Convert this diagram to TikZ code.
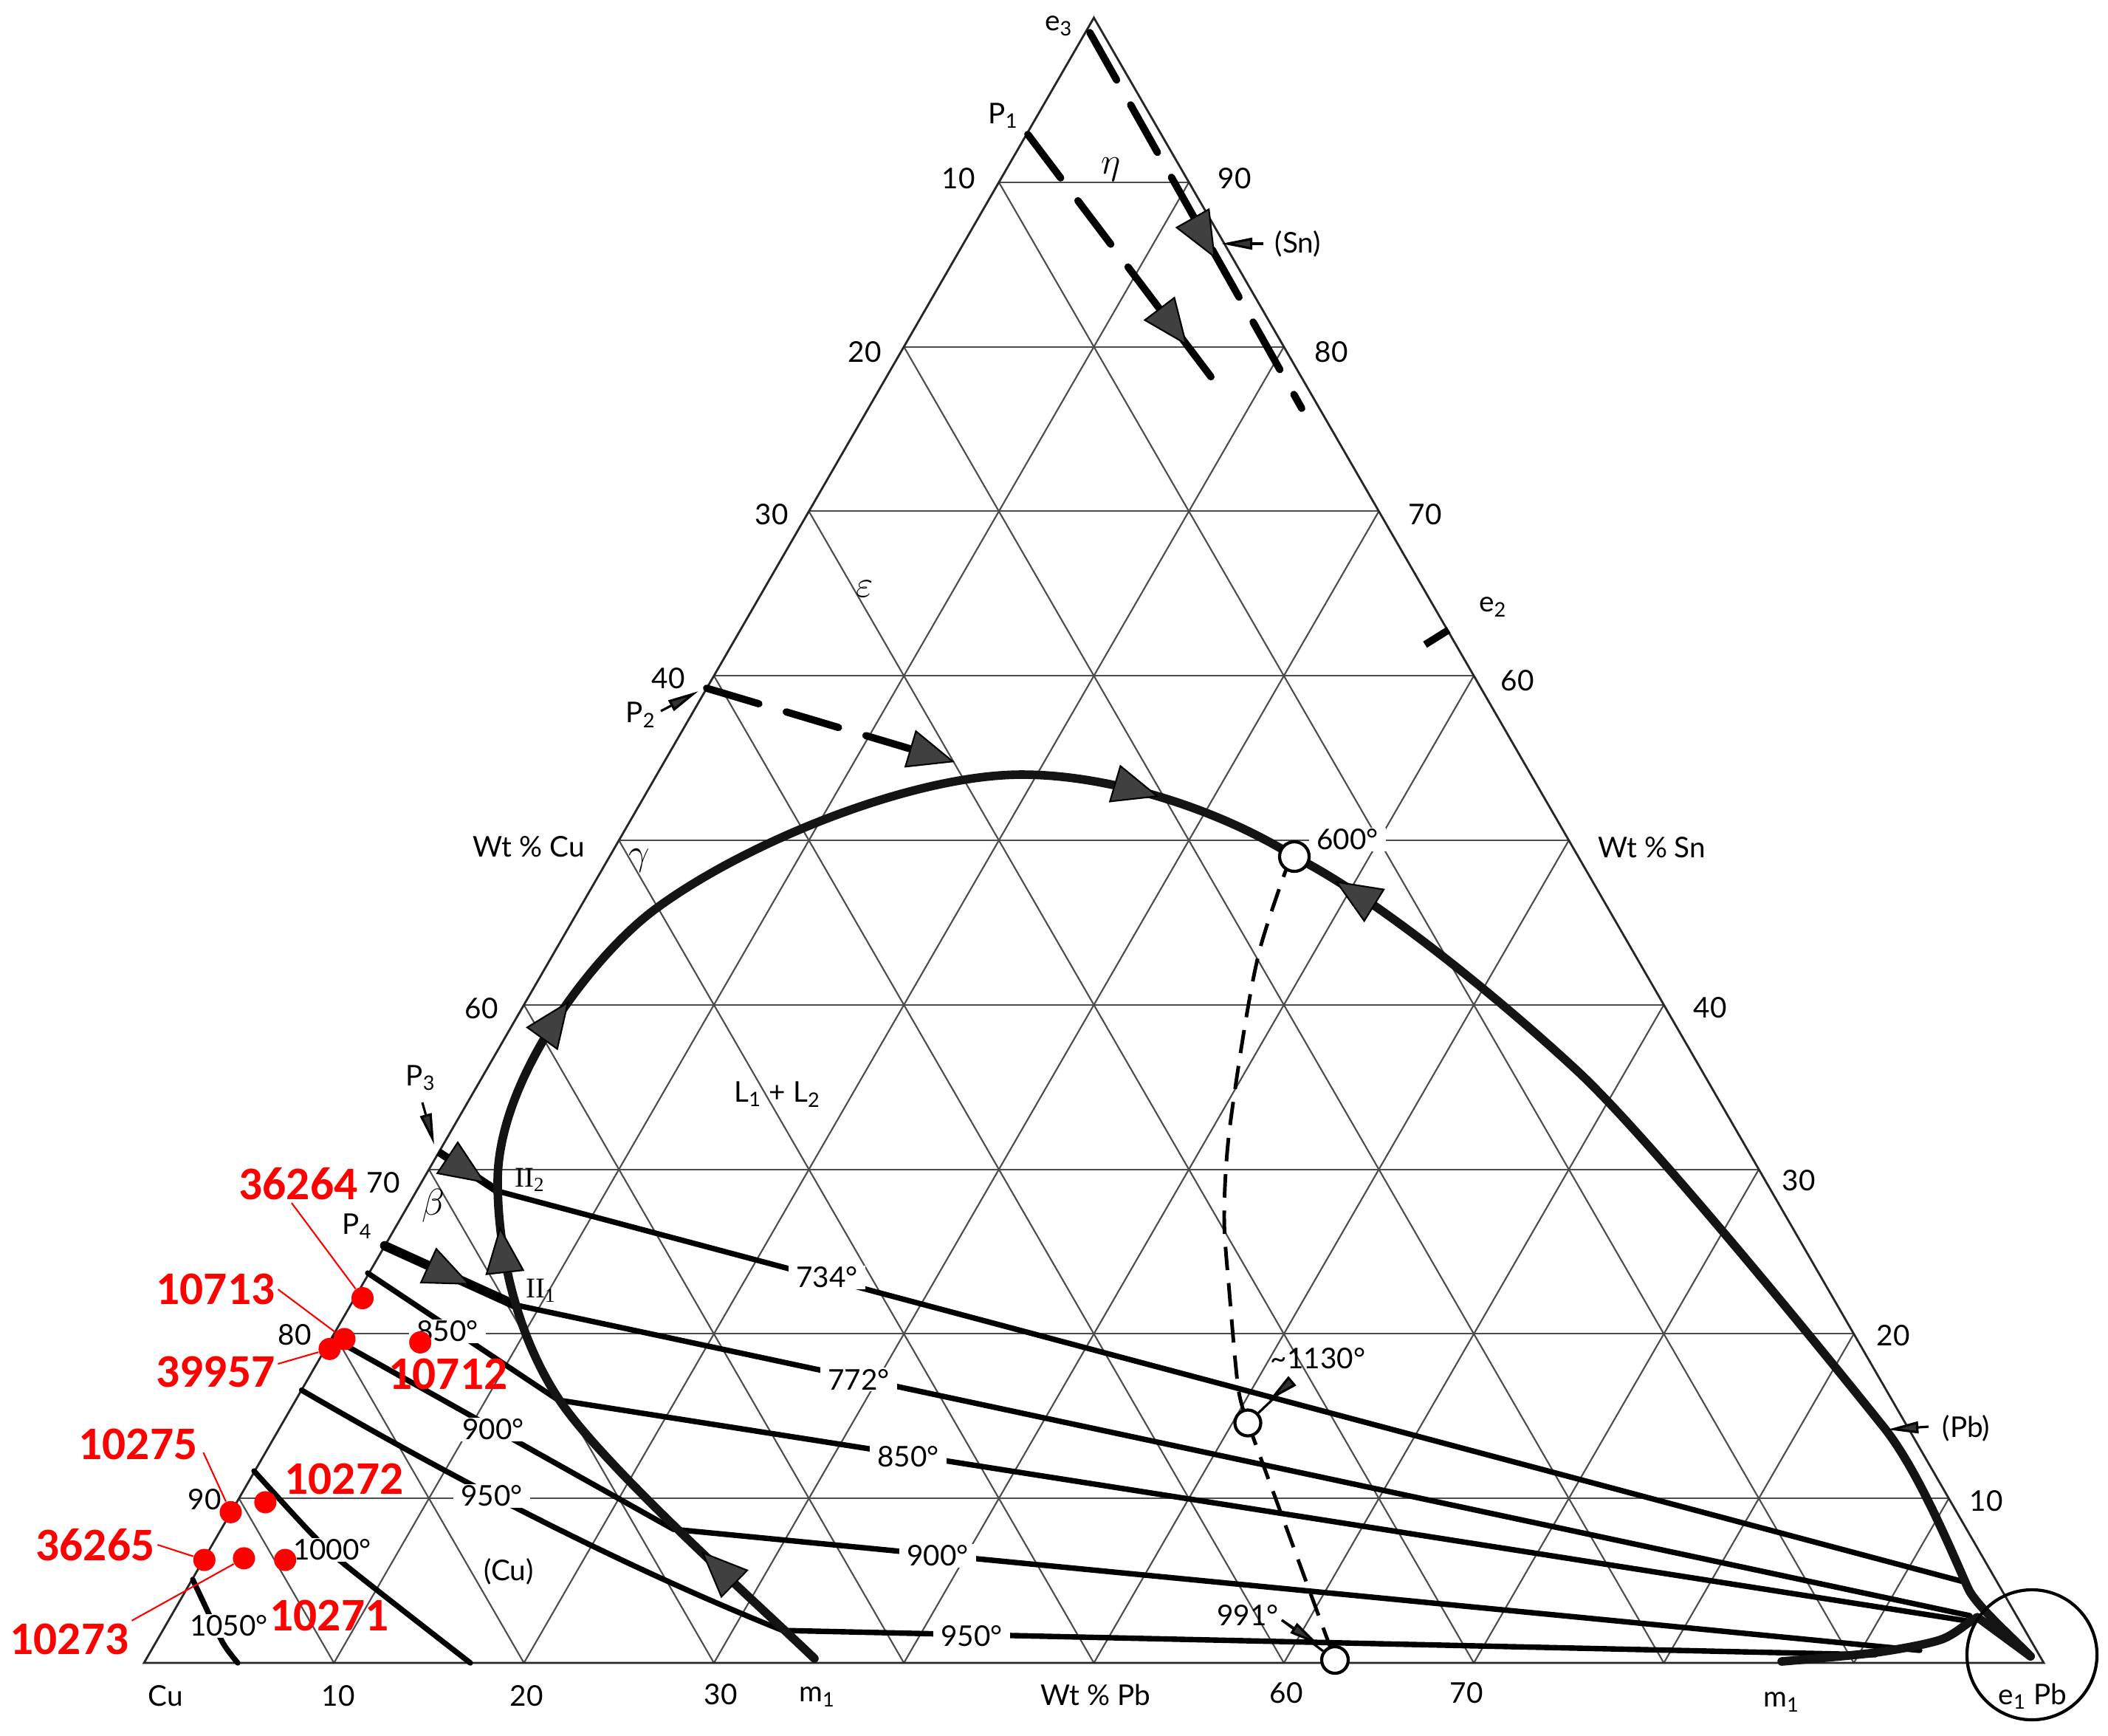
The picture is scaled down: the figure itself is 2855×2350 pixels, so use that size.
\documentclass[tikz,border=0pt]{standalone}
\usepackage{fontspec}
\setmainfont{Lato}
\newfontfamily\redfont{Carlito}
\newfontfamily\romfont{Liberation Serif}
\usetikzlibrary{arrows.meta,calc}
\begin{document}
\begin{tikzpicture}[x=0.01cm,y=-0.01cm,
  gridline/.style={black!70,line width=0.6pt},
  triedge/.style={black!85,line width=0.8pt},
  thickcurve/.style={black!92,line width=3.3pt,line cap=round,line join=round},
  tieline/.style={black,line width=2.1pt,line cap=round},
  bigdash/.style={black,line width=2.8pt,line cap=round,dash pattern=on 21pt off 11pt},
  critdash/.style={black,line width=1.4pt,dash pattern=on 9pt off 5pt},
  bigtip/.style={line width=0.4pt,-{Triangle[length=18pt,width=15pt,line width=0.6pt,fill=black!75]}},
  smalltip/.style={line width=0.9pt,-{Triangle[length=12pt,width=4.5pt,fill=black!80]}},
  lbl/.style={font=\fontsize{11}{13}\selectfont,inner sep=1pt},
  grk/.style={font=\fontsize{13.5}{15}\selectfont,inner sep=1pt},
  tlbl/.style={lbl,fill=white,inner xsep=3pt,inner ysep=0.5pt},
  romlbl/.style={font=\romfont\fontsize{11}{13}\selectfont,inner sep=1pt},
  redlbl/.style={font=\redfont\bfseries\fontsize{18}{20}\selectfont,text=red,inner sep=1pt},
  reddot/.style={circle,fill=red,inner sep=0pt,minimum size=0.3cm},
  redlead/.style={red,line width=0.6pt},
  opencirc/.style={circle,draw=black,fill=white,line width=1.2pt,inner sep=0pt,minimum size=#1},
]
\fill[white] (0,0) rectangle (2855,2350);
\useasboundingbox (0,0) rectangle (2855,2350);
% ---------- triangle and grid ----------
\coordinate (Cu) at (195,2252);
\coordinate (Pb) at (2768,2252);
\coordinate (Sn) at (1481.5,24);
\foreach \i in {10,20,...,90}{
  \draw[gridline] ({195+12.865*\i},{2252-22.28*\i}) -- ({2768-12.865*\i},{2252-22.28*\i});
  \draw[gridline] ({195+25.73*\i},2252) -- ({1481.5+12.865*\i},{24+22.28*\i});
  \draw[gridline] ({2768-25.73*\i},2252) -- ({1481.5-12.865*\i},{24+22.28*\i});
}
\draw[triedge] (Cu) -- (Pb) -- (Sn) -- cycle;
% ---------- key points ----------
\coordinate (m1pt) at (1103,2246);
\coordinate (II2) at (674,1613);
\coordinate (II1) at (697,1767);
\coordinate (K850) at (756,1896);
\coordinate (K900) at (912,2071);
\coordinate (K950) at (1060,2208);
\coordinate (L850) at (498,1724);
\coordinate (L900) at (452,1813);
\coordinate (L950) at (408.5,1882.6);
\coordinate (P3pt) at (594,1560);
\coordinate (P4pt) at (521,1687);
\coordinate (J) at (2678,2190);
\coordinate (e1pt) at (2750,2243);
\coordinate (m2pt) at (2413,2250);
% ---------- upper dashed paths ----------
\coordinate (e3pt) at (1476,44);
\coordinate (e3end) at (1763,553);
\draw[bigdash] (e3pt) -- (e3end);
\draw[bigtip] (1616.5,297.7) -- (1646,350);
\coordinate (P1pt) at (1392,182);
\coordinate (P1end) at (1658,534);
\draw[bigdash] (P1pt) -- (P1end);
\draw[bigtip] (1571.8,420.1) -- (1608,468);
\coordinate (P2pt) at (957,932);
\coordinate (P2tip) at (1293,1032);
\draw[bigdash] (P2pt) -- ($(P2pt)!0.85!(P2tip)$);
\draw[bigtip] ($(P2pt)!0.7!(P2tip)$) -- (P2tip);
\coordinate (e2a) at (1930,873);
\coordinate (e2b) at (1962,853);
\draw[line width=2.8pt] (e2a) -- (e2b);
% ---------- tie lines and isotherms ----------
\draw[tieline] (II2) -- (2663,2143);
\draw[tieline] (II1) -- (2668,2188);
\draw[tieline] (K850) -- (2670,2196);
\draw[tieline] (K900) -- (2600,2235);
\draw[tieline] (K950) -- (2540,2241);
\draw[tieline] (L850) -- (K850);
\draw[tieline] (L900) -- (K900);
\draw[tieline] (L950) .. controls (644.8,2020.2) and (862,2128.7) .. (K950);
\draw[tieline] plot[smooth] coordinates {(344,1992) (422,2077) (471,2122) (637,2252)};
\draw[tieline] plot[smooth] coordinates {(261,2139) (277,2173) (302,2225) (322,2252)};
\draw[line width=3pt] (P3pt) -- (II2);
\draw[line width=3.6pt,line cap=round] (P4pt) -- (II1);
% ---------- main curves ----------
\coordinate (c600pt) at (1753,1160);
\draw[thickcurve] (m1pt) .. controls (1024,2170) and (817.5,1986) .. (757,1895)
  .. controls (702,1812) and (674,1700) .. (674,1600)
  .. controls (674,1460) and (805,1293) .. (885,1233)
  .. controls (1005,1143) and (1234,1049) .. (1384,1049)
  .. controls (1504,1049) and (1651,1096) .. (c600pt);
\draw[thickcurve] (c600pt) .. controls (1869,1218.5) and (2041,1361.6) .. (2136,1450)
  .. controls (2231,1538) and (2466,1826) .. (2553,1935)
  .. controls (2596,1990) and (2637,2086) .. (2665,2150)
  .. controls (2675,2173) and (2722,2214) .. (e1pt);
\draw[thickcurve] plot[smooth,tension=0.5] coordinates {(m2pt) (2540,2238) (2627,2221) (2667,2197) (J)} -- (e1pt);
% ---------- big arrowheads ----------
\draw[bigtip] (P3pt) -- ($(P3pt)!0.8!(II2)$);
\draw[bigtip] (P4pt) -- ($(P4pt)!0.66!(II1)$);
\draw[bigtip] (993,2143) -- (950,2101);
\draw[bigtip] (683.5,1720.6) -- (677,1661);
\draw[bigtip] (735.7,1404.1) -- (770.7,1355.4);
\draw[bigtip] (1512.5,1062) -- (1570,1079);
\draw[bigtip] (1859,1224.7) -- (1808,1193);
% ---------- critical dashed line ----------
\draw[critdash] plot[smooth,tension=0.5] coordinates {(c600pt) (1741,1180) (1707,1283) (1687,1383) (1664,1540) (1658,1650) (1665,1750) (1677,1880) (1690,1927)};
\draw[critdash] (1690,1927) -- (1808,2248);
% ---------- labels on lines ----------
\node[tlbl] (t734) at (1120,1730) {734°};
\node[tlbl] (t772) at (1163,1868) {772°};
\node[tlbl] (t850) at (1230,1973) {850°};
\node[tlbl] (t900) at (1270,2107) {900°};
\node[tlbl] (t950) at (1316,2216) {950°};
\node[tlbl] (i850) at (606,1803) {850°};
\node[tlbl] (i900) at (668,1936) {900°};
\node[tlbl] (i950) at (666,2026) {950°};
\node[tlbl] (i1000) at (450,2099) {1000°};
\node[tlbl] (i1050) at (310,2202) {1050°};
\node[tlbl] (t600) at (1825,1137) {600°};
% ---------- circles ----------
\node[opencirc=0.4cm] (c600) at (c600pt) {};
\node[opencirc=0.35cm] (c1130) at (1690,1927) {};
\node[opencirc=0.36cm] (c991) at (1808,2248) {};
\node[circle,draw=black,line width=1.2pt,minimum size=1.76cm,inner sep=0pt] (ePb) at (2752,2241) {};
% ---------- small arrows and their labels ----------
\node[lbl] (Snlab) at (1758,330) {(Sn)};
\draw[smalltip] (1711,330) -- (1654,330);
\node[lbl] (Pblab) at (2663,1934) {(Pb)};
\draw[smalltip] (2612,1932) -- (2556,1936);
\node[lbl] (P2lab) at (868,968) {P\textsubscript{2}};
\draw[smalltip] (895,963) -- (946,936);
\node[lbl] (P3lab) at (570,1460) {P\textsubscript{3}};
\draw[smalltip] (572,1493) -- (588,1550);
\node[lbl] (l1130) at (1785,1840) {\textasciitilde1130°};
\draw[line width=0.9pt] (1749,1871) -- (c1130);
\draw[smalltip] (1749,1871) -- (1718,1897);
\node[lbl] (l991) at (1690,2187) {991°};
\draw[line width=0.9pt] (1736,2194) -- (c991);
\draw[smalltip] (1736,2194) -- (1787,2228);
% ---------- other labels ----------
\node[lbl] at (1434,35) {e\textsubscript{3}};
\node[lbl] at (1359,157) {P\textsubscript{1}};
\node[grk] at (1505,230) {$\eta$};
\node[lbl] at (2022,822) {e\textsubscript{2}};
\node[grk] at (1171,798) {$\varepsilon$};
\node[grk] at (866,1165) {$\gamma$};
\node[lbl] at (1053,1482) {L\textsubscript{1} + L\textsubscript{2}};
\node[romlbl] at (718,1598) {II\textsubscript{2}};
\node[romlbl] at (733,1748) {II\textsubscript{1}};
\node[grk] at (587,1633) {$\beta$};
\node[lbl] at (484,1661) {P\textsubscript{4}};
\node[lbl] at (689,2128) {(Cu)};
% left axis
\node[lbl] at (1298,242) {10};
\node[lbl] at (1171,477) {20};
\node[lbl] at (1045,697) {30};
\node[lbl] at (905,919) {40};
\node[lbl] at (716,1147) {Wt \% Cu};
\node[lbl] at (652,1366) {60};
\node[lbl] at (519,1602) {70};
\node[lbl] at (399,1808) {80};
\node[lbl] at (277,2031) {90};
% right axis
\node[lbl] at (1672,242) {90};
\node[lbl] at (1803,477) {80};
\node[lbl] at (1930,697) {70};
\node[lbl] at (2055,922) {60};
\node[lbl] at (2237,1148) {Wt \% Sn};
\node[lbl] at (2316,1365) {40};
\node[lbl] at (2436,1599) {30};
\node[lbl] at (2564,1809) {20};
\node[lbl] at (2690,2033) {10};
% base axis
\node[lbl] at (224,2297) {Cu};
\node[lbl] at (458,2297) {10};
\node[lbl] at (713,2297) {20};
\node[lbl] at (976,2295) {30};
\node[lbl] at (1107,2298) {m\textsubscript{1}};
\node[lbl] at (1484,2295) {Wt \% Pb};
\node[lbl] at (1742,2293) {60};
\node[lbl] at (1986,2293) {70};
\node[lbl] at (2413,2305) {m\textsubscript{1}};
\node[lbl] at (2753,2297) {e\textsubscript{1} Pb};
% ---------- red sample points ----------
\node[reddot] (d36264) at (491,1758) {};
\node[reddot] (d10713) at (466.5,1813.4) {};
\node[reddot] (d39957) at (446.4,1826.8) {};
\node[reddot] (d10712) at (569.2,1817.9) {};
\node[reddot] (d10275) at (312.5,2047.8) {};
\node[reddot] (d10272) at (359.4,2034.4) {};
\node[reddot] (d36265) at (276.8,2112.5) {};
\node[reddot] (d10273) at (330.4,2110.3) {};
\node[reddot] (d10271) at (386.2,2112.5) {};
\node[redlbl] (l36264) at (404,1603) {36264};
\node[redlbl] (l10713) at (292,1746) {10713};
\node[redlbl] (l39957) at (292,1858) {39957};
\node[redlbl] (l10712) at (607,1861) {10712};
\node[redlbl] (l10275) at (187,1956) {10275};
\node[redlbl] (l10272) at (466,2003) {10272};
\node[redlbl] (l36265) at (129,2092) {36265};
\node[redlbl] (l10273) at (94,2220) {10273};
\node[redlbl] (l10271) at (446,2188) {10271};
\draw[redlead] ($(l36264.south)+(-9,0)$) -- (d36264);
\draw[redlead] (l10713.east) -- (d10713);
\draw[redlead] ($(l39957.east)+(0,-11)$) -- (d39957);
\draw[redlead] ($(l10275.east)+(4,11)$) -- (d10275);
\draw[redlead] (l36265.east) -- (d36265);
\draw[redlead] (l10273.north east) -- (d10273);
\end{tikzpicture}
\end{document}
